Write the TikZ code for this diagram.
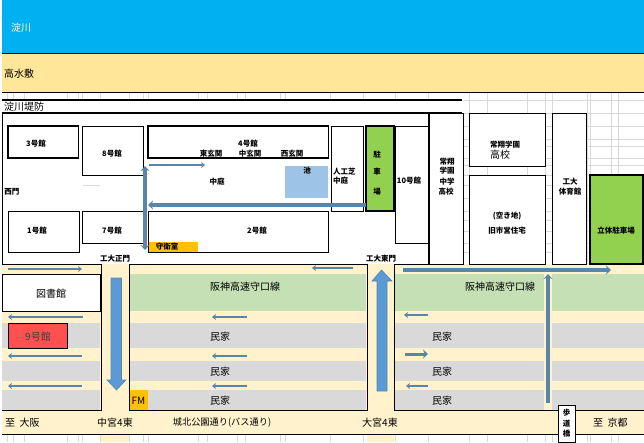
\documentclass[tikz,border=0pt]{standalone}
\usepackage{fontspec}
\setmainfont{Noto Sans CJK JP}
\usetikzlibrary{arrows.meta}
\tikzset{
    lbl/.style={inner sep=0pt, font=\fontsize{10}{11}\selectfont},
    lblsmall/.style={inner sep=0pt, font=\fontsize{7.5}{8}\selectfont\bfseries},
    bldg/.style={draw=black, fill=white, line width=0.8pt},
    bldgthick/.style={draw=black, fill=white, line width=1.8pt},
    road/.style={color=arrow_line, line width=2pt, -{Stealth[length=4pt,width=6pt]}},
    roadwide/.style={color=arrow_line, line width=3.6pt, -{Stealth[length=5pt,width=9pt]}},
    bigarrow/.style={draw=arrow_line, fill=arrow_blue, line width=0.6pt},
}
\begin{document}
\begin{tikzpicture}[x=1pt, y=-1pt]
    \definecolor{river_blue}{HTML}{00B0F0}
    \definecolor{sand}{HTML}{FFE699}
    \definecolor{cream}{HTML}{FFF2CC}
    \definecolor{hwy_green}{HTML}{C5E0B4}
    \definecolor{house_grey}{HTML}{D9D9D9}
    \definecolor{park_green}{HTML}{92D050}
    \definecolor{pond_blue}{HTML}{9DC3E6}
    \definecolor{gate_orange}{HTML}{FFC000}
    \definecolor{hall_red}{HTML}{FF5050}
    \definecolor{arrow_blue}{HTML}{5B9BD5}
    \definecolor{arrow_line}{HTML}{5A85A8}
    \definecolor{cell_grey}{HTML}{D9D9D9}
    \useasboundingbox (0,0) rectangle (644,442);
    \path[fill=white] (0,0) rectangle (644,442);

    % sheet cells
    \foreach \gx in {7,13,24,67,78,82,100,129,143,148,198,207,237,245,280,285,330,363,395,428,469,487,527,545,552,587,590,611,618}
        \draw[cell_grey, line width=0.9pt] (\gx,92) -- (\gx,100) (\gx,434) -- (\gx,442);
    \foreach \gx in {469,487,527,545,552,587,590,611,618}
        \draw[cell_grey, line width=0.9pt] (\gx,100) -- (\gx,264);
    \foreach \gy in {100,113,126,139,146,158,165,175,185,198,211,220,231,243,252}
        \draw[cell_grey, line width=0.9pt] (463,\gy) -- (644,\gy);

    % river and bank
    \path[fill=river_blue] (2,0) rectangle (644,53);
    \path[fill=sand] (2,53) rectangle (644,92);
    \draw[line width=0.8pt] (2,53) -- (644,53);
    \draw[line width=0.8pt] (2,92) -- (644,92);
    \path[fill=white] (2,100) rectangle (462,113);
    \draw[line width=1.6pt] (2,100) -- (462,100);
    \node[lbl, anchor=west, color=white] (river) at (11,28) {淀川};
    \node[lbl, anchor=west] (bank) at (4,74) {高水敷};
    \node[lbl, anchor=west] (dike) at (4,107) {淀川堤防};

    % town south of the campus
    \path[fill=cream] (2,264) rectangle (644,434);
    \path[fill=cream] (101,434) rectangle (129,442);
    \path[fill=cream] (367,434) rectangle (394,442);
    \path[fill=hwy_green] (130,274) rectangle (366,311);
    \path[fill=hwy_green] (395,274) rectangle (544,311);
    \path[fill=hwy_green] (552,274) rectangle (644,311);
    \foreach \ya/\yb in {323/348,361/381,390/410}{
        \path[fill=house_grey] (2,\ya) rectangle (100,\yb);
        \path[fill=house_grey] (130,\ya) rectangle (366,\yb);
        \path[fill=house_grey] (395,\ya) rectangle (544,\yb);
        \path[fill=house_grey] (552,\ya) rectangle (644,\yb);
    }
    \draw[line width=0.8pt] (101,264) -- (101,410.5) -- (2,410.5);
    \draw[line width=0.8pt] (129,264) rectangle (367,410.5);
    \draw[line width=0.8pt] (644,410.5) -- (394,410.5) -- (394,264);
    \draw[line width=0.8pt] (2,434) -- (644,434);

    % campus
    \path[fill=white] (2,114) rectangle (427.5,263.5);
    \draw[line width=0.8pt] (101,264) -- (2,264) -- (2,113) (394,264) -- (428,264) -- (428,113);
    \draw[line width=0.8pt] (129,264) -- (367,264);
    \draw[line width=1.6pt] (2,113) -- (462,113);
    \draw[bldgthick] (8,126) rectangle (78.5,158);
    \draw[bldg] (82,126) rectangle (143,175);
    \draw[bldgthick] (148,126) rectangle (328.5,158);
    \draw[bldg] (8,211) rectangle (79,252);
    \draw[bldg] (82,211) rectangle (143,243);
    \draw[bldg] (148,211) rectangle (328.5,252);
    \draw[bldg] (331.5,126) rectangle (363.5,211);
    \draw[bldg] (395,126) rectangle (428,243);
    \draw[bldgthick, fill=park_green] (366,126) rectangle (394,211);
    \path[fill=pond_blue] (285,166) rectangle (328,198);
    \path[fill=gate_orange] (149,242) rectangle (198,252);
    \draw[color=cell_grey] (83,185) -- (100,185);

    % buildings east of the campus
    \draw[bldg] (429,113) rectangle (463.5,264);
    \draw[bldg] (469,113) rectangle (545,166);
    \draw[bldg] (469,175) rectangle (545,264);
    \draw[bldg] (552.5,113) rectangle (586.5,264);
    \draw[bldgthick, fill=park_green] (590,175) rectangle (643,264);

    \path[fill=hall_red, draw=black, line width=0.8pt] (8,323) rectangle (67.5,348);
    \path[fill=white, draw=black, line width=0.8pt] (2,274) rectangle (100.5,311.5);
    \path[fill=gate_orange] (130,390) rectangle (148,410);
    \draw[bldg] (558,405) rectangle (575.5,442);

    % labels of the buildings
    \node[lblsmall] (hall3) at (36,144) {3号館};
    \node[lblsmall] (hall8) at (112,154) {8号館};
    \node[lblsmall] (hall4) at (248,144) {4号館};
    \node[lblsmall] (east_door) at (211,154) {東玄関};
    \node[lblsmall] (mid_door) at (250,154) {中玄関};
    \node[lblsmall] (west_door) at (292,154) {西玄関};
    \node[lblsmall] (west_gate) at (12,192) {西門};
    \node[lblsmall] (court) at (217,182) {中庭};
    \node[lblsmall] (pond) at (307,171) {池};
    \node[lblsmall, anchor=west] (turf1) at (333,172) {人工芝};
    \node[lblsmall, anchor=west] (turf2) at (333,181) {中庭};
    \node[lblsmall] (park1) at (377,155) {駐};
    \node[lblsmall] (park2) at (377,172) {車};
    \node[lblsmall] (park3) at (377,192) {場};
    \node[lblsmall] (hall10) at (409,181) {10号館};
    \node[lblsmall] (hall1) at (37,231) {1号館};
    \node[lblsmall] (hall7) at (112,231) {7号館};
    \node[lblsmall] (hall2) at (257,231) {2号館};
    \node[lblsmall] (guard) at (167,247) {守衛室};
    \node[lblsmall] (main_gate) at (115,259) {工大正門};
    \node[lblsmall] (east_gate) at (381,259) {工大東門};
    \node[lblsmall] (jh1) at (447,162) {常翔};
    \node[lblsmall] (jh2) at (447,171) {学園};
    \node[lblsmall] (jh3) at (447,182) {中学};
    \node[lblsmall] (jh4) at (446,192) {高校};
    \node[lblsmall] (sh1) at (505,145) {常翔学園};
    \node[lbl] (sh2) at (500,155) {高校};
    \node[lblsmall] (vacant) at (507,216) {(空き地)};
    \node[lblsmall] (old_flat) at (507,231) {旧市営住宅};
    \node[lblsmall] (gym1) at (570,182) {工大};
    \node[lblsmall] (gym2) at (570,192) {体育館};
    \node[lblsmall] (garage) at (616,231) {立体駐車場};

    % labels of the town
    \node[lbl] (library) at (51,294) {図書館};
    \node[lbl, color=black!75] (hall9) at (38,337) {9号館};
    \node[lbl] (hwy1) at (245,287) {阪神高速守口線};
    \node[lbl] (hwy2) at (500,287) {阪神高速守口線};
    \foreach \nm/\hx/\hy in {a/220/337, b/220/372, c/220/401, d/442/337, e/442/372, f/442/401}
        \node[lbl] (house\nm) at (\hx,\hy) {民家};
    \node[lbl] (fm) at (138.5,401) {FM};
    \node[lbl, anchor=west] (osaka) at (5,423) {至\ \ 大阪};
    \node[lbl] (nakamiya) at (115,423) {中宮4東};
    \node[lbl, font=\fontsize{9.2}{10}\selectfont] (street) at (222,423) {城北公園通り(バス通り)};
    \node[lbl] (omiya) at (380,423) {大宮4東};
    \node[lbl, anchor=west] (kyoto) at (593,423) {至\ \ 京都};
    \node[lblsmall] (bridge1) at (566.5,413) {歩};
    \node[lblsmall] (bridge2) at (566.5,424) {道};
    \node[lblsmall] (bridge3) at (566.5,434) {橋};

    % big arrows
    \path[bigarrow] (111,278) -- (121.5,278) -- (121.5,380) -- (126,380) -- (116.5,390) -- (107,380) -- (111,380) -- cycle;
    \path[bigarrow] (377,391) -- (387,391) -- (387,281) -- (392,281) -- (381.5,270) -- (372,281) -- (377,281) -- cycle;

    % traffic
    \coordinate (inner_n) at (145,166);
    \coordinate (inner_s) at (145,250);
    \draw[roadwide, {Stealth[length=5pt,width=9pt]}-{Stealth[length=5pt,width=9pt]}] (inner_n) -- (inner_s);
    \draw[road, line width=1.6pt] (149,165) -- (205,165);
    \draw[roadwide] (366,205) -- (148,205);
    \draw[road] (8,269) -- (82,269);
    \draw[road] (83,317) -- (8,317);
    \draw[road] (82,356) -- (8,356);
    \draw[road] (82,386) -- (8,386);
    \draw[road] (353,268) -- (312,268);
    \draw[road] (247,317) -- (212,317);
    \draw[road] (247,356) -- (212,356);
    \draw[road] (247,386) -- (212,386);
    \draw[roadwide] (403,270) -- (611,270);
    \draw[road] (428,315) -- (404,315);
    \draw[roadwide, line width=3pt] (405,354) -- (428,354);
    \draw[road] (428,386) -- (406,386);
    \draw[roadwide] (548,403) -- (548,274);
\end{tikzpicture}
\end{document}
